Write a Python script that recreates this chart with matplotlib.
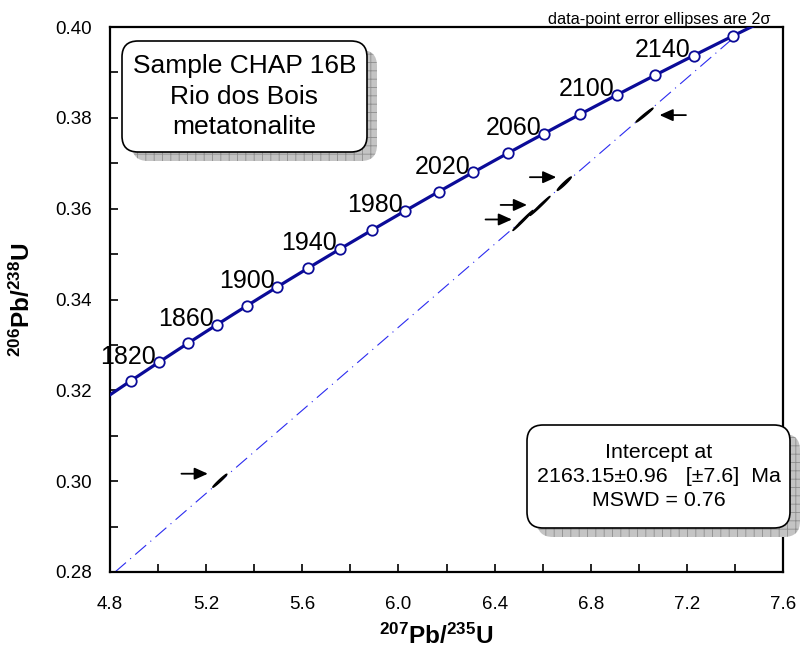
import numpy as np
import matplotlib as mpl
mpl.use("Agg")
import matplotlib.pyplot as plt
from matplotlib.patches import FancyBboxPatch, Polygon
from matplotlib.transforms import offset_copy

mpl.rcParams['font.family'] = ['Liberation Sans', 'DejaVu Sans']
mpl.rcParams['mathtext.fontset'] = 'custom'
mpl.rcParams['mathtext.rm'] = 'Liberation Sans'
mpl.rcParams['mathtext.bf'] = 'Liberation Sans:bold'
mpl.rcParams['hatch.linewidth'] = 0.6

# decay constants (1/yr) and concordia ages (Ma)
lam238 = 1.55125e-10
lam235 = 9.8485e-10
line_ages = [1780, 2180]
tick_ages = [1800, 1820, 1840, 1860, 1880, 1900, 1920, 1940, 1960, 1980,
             2000, 2020, 2040, 2060, 2080, 2100, 2120, 2140, 2160]
label_ages = [1820, 1860, 1900, 1940, 1980, 2020, 2060, 2100, 2140]

# discordia: lower end at plot edge, upper intercept 2163 Ma
disc_x = [4.821, 7.418]
disc_y = [0.280, 0.3987]

# data-point ellipses (2 sigma): x, sx, y, sy, rho
ell_x = [5.257, 6.518, 6.589, 6.690, 7.024]
ell_sx = [0.0146, 0.0208, 0.0208, 0.0146, 0.0177]
ell_y = [0.3001, 0.3574, 0.3606, 0.3655, 0.3806]
ell_sy = [0.00072, 0.0011, 0.00105, 0.00074, 0.00077]
ell_rho = [0.98, 0.993, 0.993, 0.97, 0.985]

xticks = [4.8, 5.2, 5.6, 6.0, 6.4, 6.8, 7.2, 7.6]
yticks = [0.28, 0.30, 0.32, 0.34, 0.36, 0.38, 0.40]

navy = '#0b0b98'

fig = plt.figure(figsize=(8.0, 6.58), dpi=100)
ax = fig.add_axes([110 / 800, 86 / 658, 673 / 800, 545 / 658])
ax.set_xlim(4.8, 7.6)
ax.set_ylim(0.28, 0.40)


def conc(t):
    t = np.asarray(t, dtype=float) * 1e6
    return np.exp(lam235 * t) - 1, np.exp(lam238 * t) - 1


# discordia
ax.plot(disc_x, disc_y, color='#2b2bf0', lw=0.8, ls=(0, (13, 5, 1, 5)), zorder=2)

# concordia curve and age markers
tt = np.linspace(line_ages[0], line_ages[1], 200)
cx, cy = conc(tt)
ax.plot(cx, cy, color=navy, lw=2.3, zorder=3)
mx, my = conc(tick_ages)
ax.plot(mx, my, 'o', ms=7.5, mfc='white', mec=navy, mew=1.3, zorder=4)
lx, ly = conc(label_ages)
for a, x, y in zip(label_ages, lx, ly):
    ax.annotate(str(a), (x, y), xytext=(-2, -1), textcoords='offset points',
                ha='right', va='baseline', fontsize=18, zorder=5)

# error ellipses
th = np.linspace(0, 2 * np.pi, 100)
for x, sx, y, sy, r in zip(ell_x, ell_sx, ell_y, ell_sy, ell_rho):
    cov = np.array([[sx * sx, r * sx * sy], [r * sx * sy, sy * sy]])
    L = np.linalg.cholesky(cov)
    pts = (L @ np.vstack([np.cos(th), np.sin(th)])) * 2
    ax.add_patch(Polygon(np.column_stack([x + pts[0], y + pts[1]]),
                         closed=True, fc='black', ec='black', lw=1.0, zorder=5))

# arrows pointing at the ellipses (tip offsets in pixels)
tips = [(-12, 7), (-11, 1), (-13, 1), (-8, 6.5), (15, 0)]
for (x, y), (dx, dy) in zip(zip(ell_x, ell_y), tips):
    tr = offset_copy(ax.transData, fig=fig, x=dx, y=dy, units='dots')
    sgn = -1 if dx < 0 else 1
    ax.annotate('', xy=(x, y), xycoords=tr, xytext=(sgn * 19, 0),
                textcoords='offset points',
                arrowprops=dict(arrowstyle='-|>,head_length=0.8,head_width=0.36',
                                color='black', lw=1.3, shrinkA=0, shrinkB=0))

# axes styling
ax.set_xticks(xticks)
ax.set_xticklabels(['%.1f' % v for v in xticks])
ax.set_yticks(yticks)
ax.set_yticklabels(['%.2f' % v for v in yticks])
ax.set_xticks(np.arange(5.0, 7.6, 0.4), minor=True)
ax.set_yticks(np.arange(0.29, 0.40, 0.02), minor=True)
ax.tick_params(which='both', direction='in', length=6, width=1.2, top=False, right=False)
ax.tick_params(axis='x', which='major', pad=17, labelsize=13.5)
ax.tick_params(axis='y', which='major', pad=13, labelsize=13.5)
for s in ax.spines.values():
    s.set_linewidth(1.6)

fig.text(436 / 800, 1 - 636 / 658, r'$\mathbf{^{207}Pb/^{235}U}$', fontsize=17.5,
         ha='center', va='center')
fig.text(22 / 800, 1 - 300 / 658, r'$\mathbf{^{206}Pb/^{238}U}$', fontsize=17.5,
         ha='center', va='center', rotation=90)

fig.text(770 / 800, 1 - 24 / 658, 'data-point error ellipses are 2σ', fontsize=11.7,
         ha='right', va='baseline')


def shadow_box(x0, y0, x1, y1, lines, fs, spacing):
    # pixel coords from top-left, drawn in inches
    w = (x1 - x0) / 100
    h = (y1 - y0) / 100
    bx = x0 / 100
    by = (658 - y1) / 100
    sh = FancyBboxPatch((bx + 0.10, by - 0.09), w, h,
                        boxstyle='round,pad=0,rounding_size=0.16',
                        transform=fig.dpi_scale_trans, fc='#c4c4c4',
                        ec='#8e8e8e', hatch='++', lw=0, zorder=8)
    fig.patches.append(sh)
    bb = FancyBboxPatch((bx, by), w, h, boxstyle='round,pad=0,rounding_size=0.16',
                        transform=fig.dpi_scale_trans, fc='white', ec='black',
                        lw=1.2, zorder=9)
    fig.patches.append(bb)
    fig.text((x0 + x1) / 2 / 800, 1 - (y0 + y1) / 2 / 658, lines, fontsize=fs,
             ha='center', va='center', linespacing=spacing, zorder=10)


shadow_box(122, 41, 367, 152, 'Sample CHAP 16B\nRio dos Bois\nmetatonalite', 19, 1.36)
shadow_box(527, 425, 790, 528, 'Intercept at\n2163.15±0.96   [±7.6]  Ma\nMSWD = 0.76',
           15.4, 1.35)

fig.savefig('out.png', dpi=100)
